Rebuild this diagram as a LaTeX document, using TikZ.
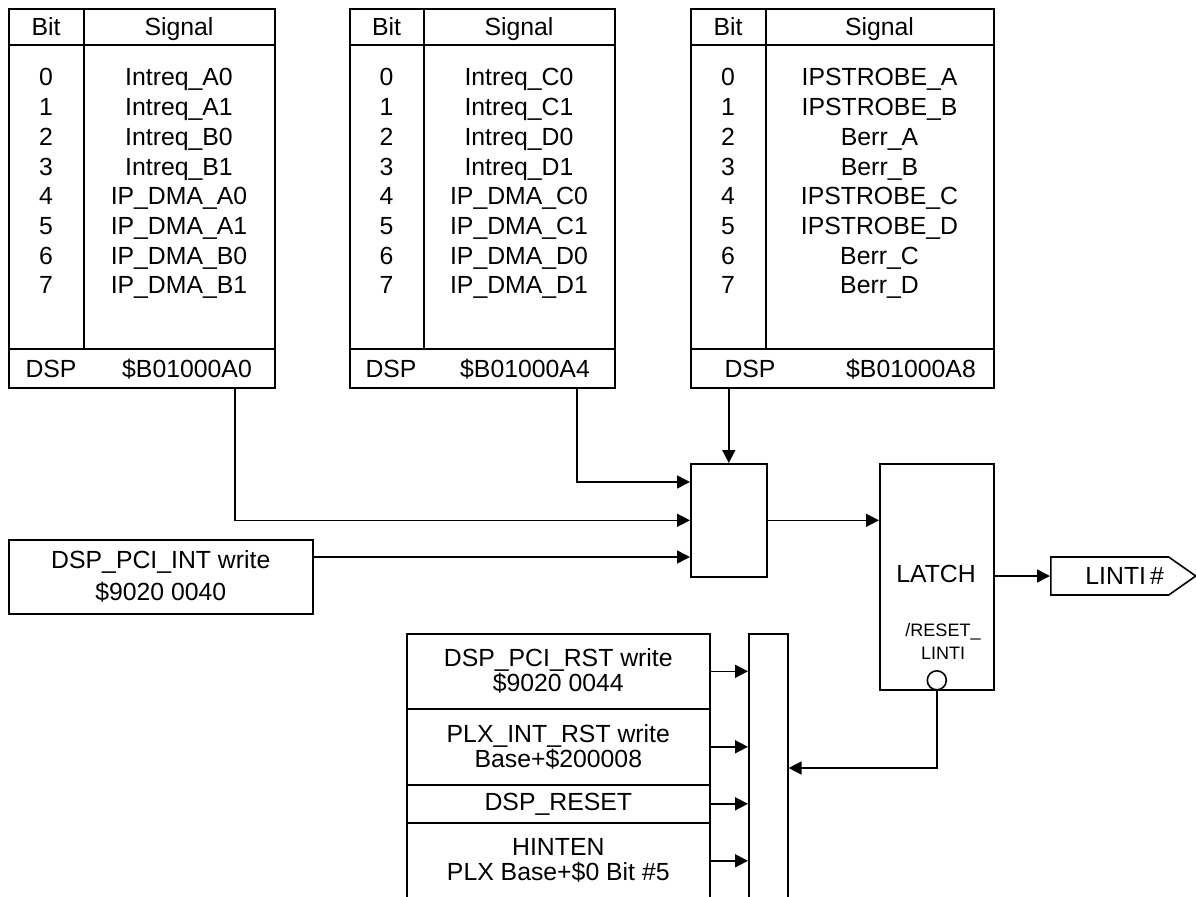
\documentclass[tikz,border=0pt]{standalone}
\usepackage{fontspec}
\setmainfont{Liberation Sans}
\usetikzlibrary{arrows.meta, positioning, shapes.symbols}

\begin{document}
\begin{tikzpicture}[x=0.5pt, y=-0.5pt,
    every node/.style={font=\fontsize{12.4}{16}\selectfont},
    blk/.style={draw, line width=0.8pt, inner sep=0pt, anchor=north west},
    cell/.style={inner sep=0pt, text height=8.9pt, text depth=0pt},
    twoline/.style={align=center, font=\fontsize{12.4}{12.5}\selectfont},
    arr/.style={-{Triangle[length=6.5pt, width=6.5pt]}, line width=0.8pt},
    div/.style={line width=0.8pt}
]
\useasboundingbox (0,0) rectangle (1196,896);

% table A: DSP $B01000A0
\node[blk, minimum width=133pt, minimum height=189.5pt] (tabA) at (8,8) {};
\draw[div] (8,45) -- (274,45) (8,349) -- (274,349) (84,8) -- (84,349);
\node[cell] (bitA) at (46,27) {Bit};
\node[cell] (sigA) at (179,27) {Signal};
\foreach \s [count=\i from 0] in {Intreq\_A0, Intreq\_A1, Intreq\_B0, Intreq\_B1,
        IP\_DMA\_A0, IP\_DMA\_A1, IP\_DMA\_B0, IP\_DMA\_B1} {
    \node[cell] (bitA\i) at (46,77+29.7*\i) {\i};
    \node[cell] (sigA\i) at (179,77+29.7*\i) {\s};
}
\node[cell] (dspA) at (51,369) {DSP};
\node[cell] (adrA) at (187,369) {\$B01000A0};

% table B: DSP $B01000A4
\node[blk, minimum width=132.5pt, minimum height=189.5pt] (tabB) at (349,8) {};
\draw[div] (349,45) -- (614,45) (349,349) -- (614,349) (424,8) -- (424,349);
\node[cell] (bitB) at (386.5,27) {Bit};
\node[cell] (sigB) at (519,27) {Signal};
\foreach \s [count=\i from 0] in {Intreq\_C0, Intreq\_C1, Intreq\_D0, Intreq\_D1,
        IP\_DMA\_C0, IP\_DMA\_C1, IP\_DMA\_D0, IP\_DMA\_D1} {
    \node[cell] (bitB\i) at (386.5,77+29.7*\i) {\i};
    \node[cell] (sigB\i) at (519,77+29.7*\i) {\s};
}
\node[cell] (dspB) at (391,369) {DSP};
\node[cell] (adrB) at (525,369) {\$B01000A4};

% table C: DSP $B01000A8
\node[blk, minimum width=151.5pt, minimum height=189.5pt] (tabC) at (690,8) {};
\draw[div] (690,45) -- (993,45) (690,349) -- (993,349) (766,8) -- (766,349);
\node[cell] (bitC) at (728,27) {Bit};
\node[cell] (sigC) at (879.5,27) {Signal};
\foreach \s [count=\i from 0] in {IPSTROBE\_A, IPSTROBE\_B, Berr\_A, Berr\_B,
        IPSTROBE\_C, IPSTROBE\_D, Berr\_C, Berr\_D} {
    \node[cell] (bitC\i) at (728,77+29.7*\i) {\i};
    \node[cell] (sigC\i) at (879.5,77+29.7*\i) {\s};
}
\node[cell] (dspC) at (750,369) {DSP};
\node[cell] (adrC) at (911,369) {\$B01000A8};

% or-block, latch and output
\node[blk, minimum width=38pt, minimum height=56.5pt] (mux) at (690,463) {};
\node[blk, align=center, minimum width=152pt, minimum height=37pt] (pciint) at (8,539)
    {DSP\_PCI\_INT write\\\$9020 0040};
\node[blk, minimum width=57pt, minimum height=113pt] (latch) at (879,463) {};
\node[cell] (latchlbl) at (936,574) {LATCH};
\node[align=center, inner sep=0pt, font=\fontsize{9}{11.5}\selectfont] (rstlbl) at (943,641)
    {/RESET\_\\LINTI};
\node[draw, circle, line width=0.8pt, minimum size=9.5pt, inner sep=0pt, anchor=south]
    (rstpin) at (latch.south) {};
\node[draw, signal, signal to=east, signal pointer angle=70, line width=0.8pt,
    minimum width=72.5pt, minimum height=19pt, inner sep=0pt, anchor=west] (linti) at (1050,576)
    {\kern15pt LINTI\,\#};

% reset sources
\node[blk, twoline, minimum width=151.5pt, minimum height=37.5pt] (rstA) at (406,633)
    {DSP\_PCI\_RST write\\\$9020 0044};
\node[blk, twoline, minimum width=151.5pt, minimum height=38pt] (rstB) at (406,708)
    {PLX\_INT\_RST write\\Base+\$200008};
\node[blk, minimum width=151.5pt, minimum height=19pt] (rstC) at (406,784) {DSP\_RESET};
\node[blk, twoline, minimum width=151.5pt, minimum height=38pt] (rstD) at (406,822)
    {HINTEN\\PLX Base+\$0 Bit \#5};
\node[blk, minimum width=19.5pt, minimum height=145pt] (orbar) at (748,633) {};

% connectors
\draw[arr] (tabA.south -| 235,0) |- (mux.west);
\draw[arr] (tabB.south -| 577,0) |- (mux.west |- 0,482);
\draw[arr] (tabC.south -| mux.north) -- (mux.north);
\draw[arr] (pciint.east |- 0,557) -- (mux.west |- 0,557);
\draw[arr] (mux.east) -- (mux.east -| latch.west);
\draw[arr] (latch.east |- linti.west) -- (linti.west);
\draw[arr] (rstA.east) -- (rstA.east -| orbar.west);
\draw[arr] (rstB.east) -- (rstB.east -| orbar.west);
\draw[arr] (rstC.east) -- (rstC.east -| orbar.west);
\draw[arr] (rstD.east) -- (rstD.east -| orbar.west);
\draw[arr] (rstpin.south) |- (orbar.east |- 0,768);
\end{tikzpicture}
\end{document}
